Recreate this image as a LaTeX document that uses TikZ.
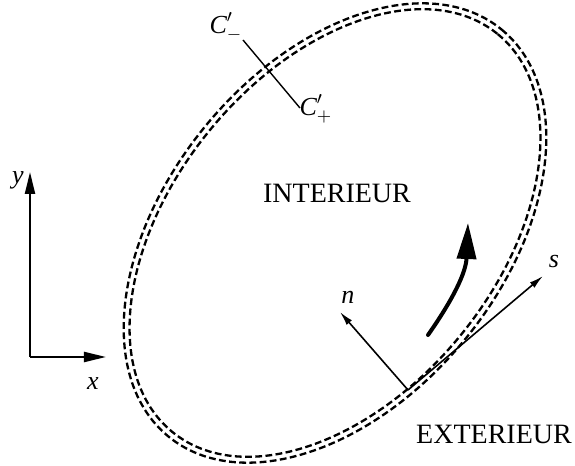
\documentclass[tikz,border=0pt]{standalone}
\usepackage{fontspec}
\setmainfont{Liberation Serif}
\usetikzlibrary{positioning,arrows.meta,calc}

\begin{document}
\begin{tikzpicture}[
  x=0.5pt, y=-0.5pt,
  every node/.style={font=\fontsize{14}{16}\selectfont},
  contour/.style={line width=1.15pt, dash pattern=on 3.4pt off 1.7pt},
  axis/.style   ={line width=1.1pt, -{Triangle[length=11pt,width=5pt]}},
  vec/.style    ={line width=0.8pt, -{Latex[length=7pt,width=3.5pt]}},
  sens/.style   ={line width=2pt, line cap=round,
                  -{Triangle[length=18pt,width=9.5pt]}},
  lbl/.style    ={inner sep=1pt, font=\fontsize{13}{15}\selectfont}
]
\useasboundingbox (0,0) rectangle (575,466);

%% ---- Contour (two dashed curves) ---------------------------------
\coordinate (O) at (335,233);
\draw[contour] (O) ellipse [x radius=263, y radius=168, rotate=50.7];
\draw[contour] (O) ellipse [x radius=257, y radius=162, rotate=50.7];

%% ---- Regions ------------------------------------------------------
\node (int) at (337,193) {INTERIEUR};
\node (ext) at (494,434) {EXTERIEUR};

%% ---- Cut and its sides -------------------------------------------
\coordinate (cutA) at (243,40);
\coordinate (cutB) at (300,108);
\draw[line width=0.7pt] (cutA) -- (cutB);
\node[lbl] (cm) at (226,27) {$\textit{C}'_-$};
\node[lbl] (cp) at (316,109) {$\textit{C}'_+$};

%% ---- Local frame on the contour ----------------------------------
\coordinate (P) at (408,390);
\coordinate (ntip) at (340,312);
\coordinate (stip) at (543,276);
\draw[vec] (P) -- (ntip);
\draw[vec] (P) -- (stip);
\node[lbl] (nl) at (348,297) {\textit{n}};
\node[lbl] (sl) at (554,262) {\textit{s}};

%% ---- Direction of travel -----------------------------------------
\coordinate (arrA) at (428,335);
\coordinate (arrB) at (468,223);
\draw[sens] (arrA) .. controls (454,298) and (466,272) .. (arrB);

%% ---- Axes ---------------------------------------------------------
\coordinate (orig) at (30,357);
\coordinate (xtip) at (106,357);
\coordinate (ytip) at (30,172);
\draw[axis] (orig) -- (xtip);
\draw[axis] (orig) -- (ytip);
\node[lbl] (xl) at (93,384) {\textit{x}};
\node[lbl] (yl) at (18,180) {\textit{y}};

\end{tikzpicture}
\end{document}
